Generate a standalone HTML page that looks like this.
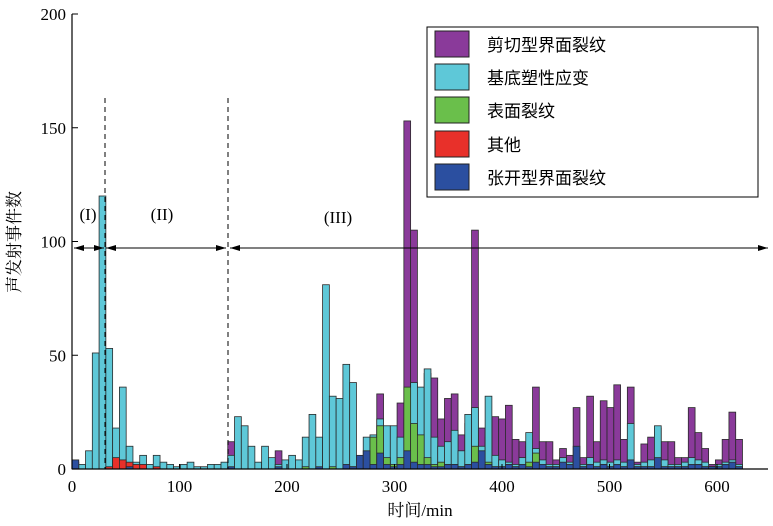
<!DOCTYPE html>
<html><head><meta charset="utf-8">
<style>
html,body{margin:0;padding:0;background:#fff;}
svg{display:block;font-family:"Liberation Serif","Noto Serif CJK SC",serif;}
</style></head>
<body>
<svg id="chart" width="773" height="526" viewBox="0 0 773 526" xmlns="http://www.w3.org/2000/svg">
<g id="bars"></g>
<g id="axes"></g>
<text x="0" y="0" transform="translate(20,242) rotate(-90)" text-anchor="middle" font-size="17" font-family="Liberation Serif, Noto Serif CJK SC, serif">声发射事件数</text>
<text x="420" y="516" text-anchor="middle" font-size="17" font-family="Liberation Serif, Noto Serif CJK SC, serif">时间/min</text>
<g>
<rect x="427" y="27" width="331" height="170" fill="#fff" stroke="#000" stroke-width="1"/>
<g><rect x="435" y="31" width="34" height="26" fill="#8a3a9a" stroke="#222"/><text x="487" y="51" font-size="17" font-family="Liberation Sans, Noto Sans CJK SC, sans-serif">剪切型界面裂纹</text></g>
<g><rect x="435" y="64" width="34" height="26" fill="#5ec8d8" stroke="#222"/><text x="487" y="84" font-size="17" font-family="Liberation Sans, Noto Sans CJK SC, sans-serif">基底塑性应变</text></g>
<g><rect x="435" y="97" width="34" height="26" fill="#6abf4b" stroke="#222"/><text x="487" y="117" font-size="17" font-family="Liberation Sans, Noto Sans CJK SC, sans-serif">表面裂纹</text></g>
<g><rect x="435" y="131" width="34" height="26" fill="#e8302a" stroke="#222"/><text x="487" y="151" font-size="17" font-family="Liberation Sans, Noto Sans CJK SC, sans-serif">其他</text></g>
<g><rect x="435" y="164" width="34" height="26" fill="#2b4fa0" stroke="#222"/><text x="487" y="184" font-size="17" font-family="Liberation Sans, Noto Sans CJK SC, sans-serif">张开型界面裂纹</text></g>
</g>
<g>
<line x1="105" y1="98" x2="105" y2="469" stroke="#000" stroke-dasharray="5,4"/>
<line x1="228" y1="98" x2="228" y2="469" stroke="#000" stroke-dasharray="5,4"/>
<line x1="74" y1="248" x2="104" y2="248" stroke="#000"/>
<line x1="106" y1="248" x2="226" y2="248" stroke="#000"/>
<line x1="230" y1="248" x2="768" y2="248" stroke="#000"/>
<polygon points="74,248 84,245 84,251" fill="#000"/>
<polygon points="104,248 94,245 94,251" fill="#000"/>
<polygon points="106,248 116,245 116,251" fill="#000"/>
<polygon points="226,248 216,245 216,251" fill="#000"/>
<polygon points="230,248 240,245 240,251" fill="#000"/>
<polygon points="768,248 758,245 758,251" fill="#000"/>
<text x="88" y="220" text-anchor="middle" font-size="17">(I)</text>
<text x="162" y="220" text-anchor="middle" font-size="17">(II)</text>
<text x="338" y="223" text-anchor="middle" font-size="17">(III)</text>
</g>
</svg>
<script>
const binMinutes = 6.3;
const cyanVals = [3,2,8,51,120,53,18,36,10,3, 6,2,6,3,2,1,2,3,1,1, 2,2,3,6,23,19,10,3,10,5, 2,4,6,4,14,24,14,81,32,31, 46,38,2,14,15,22,19,19,14,22, 38,36,44,14,10,12,17,8,24,27, 10,32,6,4,3,2,5,16,9,4, 2,2,5,3,4,2,5,3,4,3, 4,3,20,2,3,4,19,4,2,2, 3,5,4,3,1,2,3,4,2];
const purpleVals = [0,0,0,0,0,0,0,0,0,0, 0,0,0,0,0,0,0,0,0,0, 0,0,0,12,0,0,0,0,0,0, 8,0,0,0,0,0,0,0,0,0, 0,0,0,0,0,33,0,15,29,153, 105,20,42,40,22,31,33,15,20,105, 18,14,23,22,28,13,12,10,36,12, 12,4,9,6,27,5,32,12,30,27, 37,13,36,3,11,14,18,12,12,5, 5,27,16,9,2,4,13,25,13];
const greenVals = [0,0,0,0,0,0,1,0,0,0, 0,0,0,0,0,0,0,0,0,0, 0,0,0,0,0,0,0,0,0,0, 0,0,0,0,1,0,0,0,1,0, 1,1,1,2,14,19,5,2,5,36, 20,15,5,2,3,2,2,1,2,10, 2,3,1,1,2,1,1,3,7,1, 1,1,2,1,2,1,1,1,2,1, 1,1,3,1,1,1,2,1,1,1, 1,1,2,1,1,1,1,1,1];
const redVals = [0,0,0,0,0,1,5,4,3,2, 2,0,1,0,0,0,0,0,0,0, 0,0,0,0,0,0,0,0,0,0, 0,0,0,0,0,0,0,0,0,0, 0,0,0,0,0,0,0,0,0,0, 0,0,0,0,0,0,0,0,0,0, 0,0,0,0,0,0,0,0,0,0, 0,0,0,0,0,0,0,0,0,0, 0,0,0,0,0,0,0,0,0,0, 0,0,0,0,0,0,0,0,0];
const blueVals = [4,0,0,0,0,0,0,0,1,0, 0,0,0,0,0,0,0,0,0,0, 0,0,0,1,0,0,0,0,0,0, 1,0,0,0,0,0,1,0,0,0, 2,1,6,8,2,7,2,1,2,8, 3,2,2,1,1,2,2,1,2,3, 8,2,1,1,2,1,2,1,3,2, 1,1,3,2,10,1,2,1,2,1, 2,1,4,1,1,1,5,1,1,1, 1,2,2,1,1,1,2,3,1];
const yTicks = [0,50,100,150,200];
const xTicks = [0,100,200,300,400,500,600];

const NS = "http://www.w3.org/2000/svg";
function xScale(t){ return 72 + t*(717-72)/600; }
function yScale(v){ return 469 - v*(469-14)/200; }
const barsG = document.getElementById('bars');
const axesG = document.getElementById('axes');
function drawSeries(vals, color, name){
  vals.forEach(function(v,i){
    if(v<=0) return;
    const x0 = xScale(i*binMinutes), x1 = xScale((i+1)*binMinutes);
    const r = document.createElementNS(NS,'rect');
    r.setAttribute('x', x0);
    r.setAttribute('y', yScale(v));
    r.setAttribute('width', x1-x0);
    r.setAttribute('height', yScale(0)-yScale(v));
    r.setAttribute('fill', color);
    r.setAttribute('stroke', '#2a2a2a');
    r.setAttribute('stroke-width', '0.8');
    
    
    barsG.appendChild(r);
  });
}
drawSeries(purpleVals,'#8a3a9a','bar-shear-crack');
drawSeries(cyanVals,'#5ec8d8','bar-plastic-strain');
drawSeries(greenVals,'#6abf4b','bar-surface-crack');
drawSeries(redVals,'#e8302a','bar-other');
drawSeries(blueVals,'#2b4fa0','bar-tensile-crack');

function line(x1,y1,x2,y2,w){
  const l=document.createElementNS(NS,'line');
  l.setAttribute('x1',x1);l.setAttribute('y1',y1);l.setAttribute('x2',x2);l.setAttribute('y2',y2);
  l.setAttribute('stroke','#000');l.setAttribute('stroke-width',w||1);
  axesG.appendChild(l);return l;
}
const ya=line(72,14,72,469,1.2);


const xa=line(72,469,768,469,1.2);


yTicks.forEach(function(v){
  line(72,yScale(v),78,yScale(v));
  const t=document.createElementNS(NS,'text');
  t.setAttribute('x',66);t.setAttribute('y',yScale(v)+6);
  t.setAttribute('text-anchor','end');t.setAttribute('font-size','17');
  t.textContent=v;
  
  
  axesG.appendChild(t);
});
xTicks.forEach(function(v){
  line(xScale(v),469,xScale(v),464);
  const t=document.createElementNS(NS,'text');
  t.setAttribute('x',xScale(v));t.setAttribute('y',492);
  t.setAttribute('text-anchor','middle');t.setAttribute('font-size','17');
  t.textContent=v;
  
  
  axesG.appendChild(t);
});
</script>
</body></html>
